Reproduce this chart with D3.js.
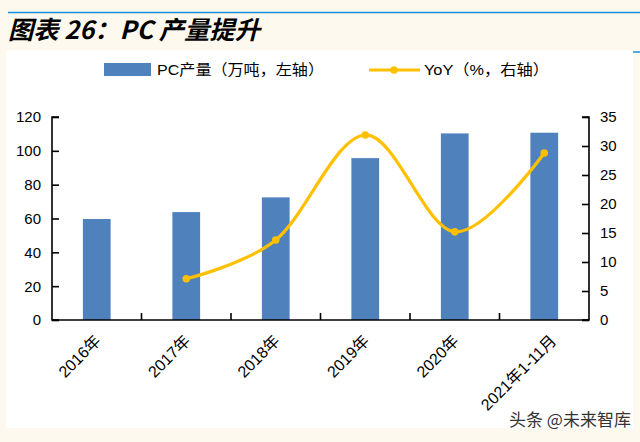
<!DOCTYPE html>
<html><head><meta charset="utf-8">
<script src="https://cdn.jsdelivr.net/npm/d3@7"></script>
<style>
html,body{margin:0;padding:0;background:#fef9ef;}
svg{display:block;}
</style></head>
<body>
<svg id="c" width="640" height="442"></svg>
<script>
const categories = ["2016年","2017年","2018年","2019年","2020年","2021年1-11月"];
const production = [59.7, 63.8, 72.5, 95.7, 110.3, 110.7];
const yoy = [null, 7.1, 13.8, 31.9, 15.2, 28.8];
const leftTicks = [0,20,40,60,80,100,120];
const rightTicks = [0,5,10,15,20,25,30,35];

(function(){
const svg = d3.select("#c");
const FONT = "'Liberation Sans', Arial, 'Noto Sans CJK SC', sans-serif";
const BLUE = "#4f81bd", GOLD = "#ffc000";

svg.append("rect").attr("x",0).attr("y",0).attr("width",640).attr("height",442).attr("fill","#fef9ef");
svg.append("rect").attr("x",6).attr("y",50).attr("width",627).attr("height",378).attr("fill","#ffffff");
svg.append("line").attr("x1",8).attr("x2",640).attr("y1",12.5).attr("y2",12.5).attr("stroke","#1a8fe0").attr("stroke-width",1.5);
svg.append("line").attr("x1",633).attr("x2",640).attr("y1",52).attr("y2",52).attr("stroke","#1a8fe0").attr("stroke-width",1.5);

svg.append("text").attr("x",8).attr("y",39)
  .attr("font-family","'Noto Sans CJK SC', sans-serif").attr("font-weight","bold").attr("font-style","italic")
  .attr("font-size",25).attr("fill","#000")
  .attr("textLength",252).attr("lengthAdjust","spacingAndGlyphs")
  .text("图表 26：PC 产量提升");

const L = 52, R = 589, T = 117, B = 320;
const x = d3.scaleBand().domain(categories).range([L,R]).paddingInner(0.69).paddingOuter(0.345);
const xc = d => x(d) + x.bandwidth()/2;
const yL = d3.scaleLinear().domain([0,120]).range([B,T]);
const yR = d3.scaleLinear().domain([0,35]).range([B,T]);

svg.append("g").selectAll("rect").data(production).join("rect")
  .attr("x",(d,i)=>x(categories[i])).attr("width",x.bandwidth())
  .attr("y",d=>yL(d)).attr("height",d=>B-yL(d)).attr("fill",BLUE);

const axL = svg.append("g").attr("transform",`translate(${L},0)`)
  .call(d3.axisRight(yL).tickValues(leftTicks).tickSize(7).tickFormat(""));
const axR = svg.append("g").attr("transform",`translate(${R},0)`)
  .call(d3.axisLeft(yR).tickValues(rightTicks).tickSize(7).tickFormat(""));
[axL,axR].forEach(a=>{a.select(".domain").attr("stroke","#000").attr("stroke-width",1.6);
  a.selectAll(".tick line").attr("stroke","#000").attr("stroke-width",1.6);});
axL.select(".domain").attr("d",`M7,${T}H0V${B}H7`);
axR.select(".domain").attr("d",`M-7,${T}H0V${B}H-7`);

svg.append("g").selectAll("text").data(leftTicks).join("text")
  .attr("x",41).attr("y",d=>yL(d)).attr("dy","0.36em").attr("text-anchor","end")
  .attr("font-family",FONT).attr("font-size",15).attr("fill","#000").text(d=>d);
svg.append("g").selectAll("text").data(rightTicks).join("text")
  .attr("x",600).attr("y",d=>yR(d)).attr("dy","0.36em").attr("text-anchor","start")
  .attr("font-family",FONT).attr("font-size",15).attr("fill","#000").text(d=>d);

const bounds = d3.range(categories.length+1).map(i=>L + (R-L)*i/categories.length);
const gx = svg.append("g");
gx.append("line").attr("x1",L).attr("x2",R).attr("y1",B).attr("y2",B).attr("stroke","#000").attr("stroke-width",1.6);
gx.selectAll("line.t").data(bounds.slice(1,-1)).join("line").attr("class","t")
  .attr("x1",d=>d).attr("x2",d=>d).attr("y1",B).attr("y2",B-7).attr("stroke","#000").attr("stroke-width",1.6);

svg.append("g").selectAll("text").data(categories).join("text")
  .attr("transform",d=>`translate(${xc(d)+1+(d.length>5?8:0)},${B+18}) rotate(-45)`)
  .attr("text-anchor","end").attr("dy","0.35em")
  .attr("font-family",FONT).attr("font-size",16).attr("fill","#000").text(d=>d);

const pts = yoy.map((v,i)=>({v,c:categories[i]})).filter(d=>d.v!==null);
const line = d3.line().x(d=>xc(d.c)).y(d=>yR(d.v)).curve(d3.curveCatmullRom.alpha(0));
svg.append("path").datum(pts).attr("d",line).attr("fill","none").attr("stroke",GOLD).attr("stroke-width",3.2);
svg.append("g").selectAll("circle").data(pts).join("circle")
  .attr("cx",d=>xc(d.c)).attr("cy",d=>yR(d.v)).attr("r",3.8).attr("fill",GOLD);

const lg = svg.append("g");
lg.append("rect").attr("x",104).attr("y",63).attr("width",47).attr("height",13).attr("fill",BLUE);
lg.append("text").attr("x",157).attr("y",70).attr("dy","0.36em").attr("font-family",FONT).attr("font-size",15).attr("fill","#000")
  .attr("textLength",167).attr("lengthAdjust","spacingAndGlyphs").text("PC产量（万吨，左轴）");
lg.append("line").attr("x1",369).attr("x2",420).attr("y1",70).attr("y2",70).attr("stroke",GOLD).attr("stroke-width",3.2);
lg.append("circle").attr("cx",394).attr("cy",70).attr("r",3.8).attr("fill",GOLD);
lg.append("text").attr("x",424).attr("y",70).attr("dy","0.36em").attr("font-family",FONT).attr("font-size",15).attr("fill","#000")
  .attr("textLength",125).attr("lengthAdjust","spacingAndGlyphs").text("YoY（%，右轴）");

svg.append("text").attr("x",509).attr("y",426).attr("font-family","'Noto Sans CJK SC', sans-serif").attr("font-size",17)
  .attr("fill","#333").attr("stroke","#fff").attr("stroke-width",2).attr("paint-order","stroke").text("头条 @未来智库");
})();
</script>
</body></html>
